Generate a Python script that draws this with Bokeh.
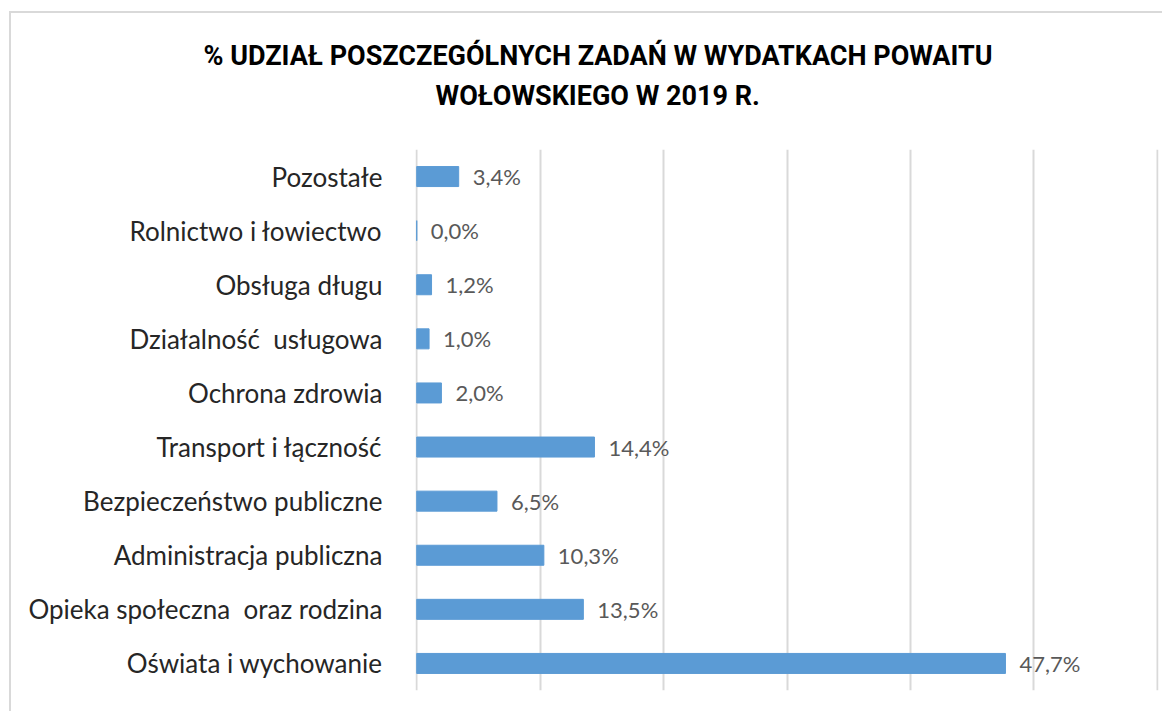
from bokeh.plotting import figure
from bokeh.models import Range1d, FixedTicker, Title, ColumnDataSource
from bokeh.core.properties import value
from bokeh.embed import file_html
from bokeh.resources import INLINE

categories = ["Oświata i wychowanie", "Opieka społeczna\u00a0 oraz rodzina", "Administracja publiczna",
              "Bezpieczeństwo publiczne", "Transport i łączność", "Ochrona zdrowia",
              "Działalność\u00a0 usługowa", "Obsługa długu", "Rolnictwo i łowiectwo", "Pozostałe"]
shares = [47.7, 13.5, 10.3, 6.5, 14.4, 2.0, 1.0, 1.2, 0.0, 3.4]
labels = ["47,7%", "13,5%", "10,3%", "6,5%", "14,4%", "2,0%", "1,0%", "1,2%", "0,0%", "3,4%"]
x_ticks = [0, 10, 20, 30, 40, 50, 60]
title_lines = ["% UDZIAŁ POSZCZEGÓLNYCH ZADAŃ W WYDATKACH POWAITU", "WOŁOWSKIEGO W 2019 R."]

src = ColumnDataSource(dict(cat=categories, val=shares, lab=labels))

p = figure(width=1153, height=700, y_range=categories, x_range=Range1d(-0.1, 60.1),
           output_backend="svg", toolbar_location=None,
           min_border_left=404, min_border_right=6, min_border_bottom=23, min_border_top=136)
p.outline_line_color = None
p.styles = {"margin-left": "9px", "margin-top": "11px",
            "border-left": "2px solid #D9D9D9", "border-top": "2px solid #D9D9D9"}

p.add_layout(Title(text=title_lines[1], align="left", offset=20, standoff=75,
                   text_font="Roboto", text_font_style="bold", text_font_size="27px",
                   text_color="#000000"), "above")
p.add_layout(Title(text=title_lines[0], align="left", offset=-212, standoff=-62,
                   text_font="Roboto", text_font_style="bold", text_font_size="27px",
                   text_color="#000000"), "above")

p.hbar(y="cat", right="val", left=0, height=0.37, source=src, color="#5B9BD5")
p.text(x="val", y="cat", text="lab", source=src, x_offset=14, text_baseline="middle",
       text_font=value("Lato"), text_font_size="22px", text_color="#595959")

p.xaxis.visible = False
p.xgrid.ticker = FixedTicker(ticks=x_ticks)
p.xgrid.grid_line_color = "#D9D9D9"
p.xgrid.grid_line_width = 2
p.ygrid.grid_line_color = None

p.yaxis.axis_line_color = None
p.yaxis.major_tick_line_color = None
p.yaxis.minor_tick_line_color = None
p.yaxis.major_label_text_font = "Lato"
p.yaxis.major_label_text_font_size = "26px"
p.yaxis.major_label_text_color = "#262626"
p.yaxis.major_label_standoff = 27

open("out.html", "w").write(file_html(p, INLINE))
